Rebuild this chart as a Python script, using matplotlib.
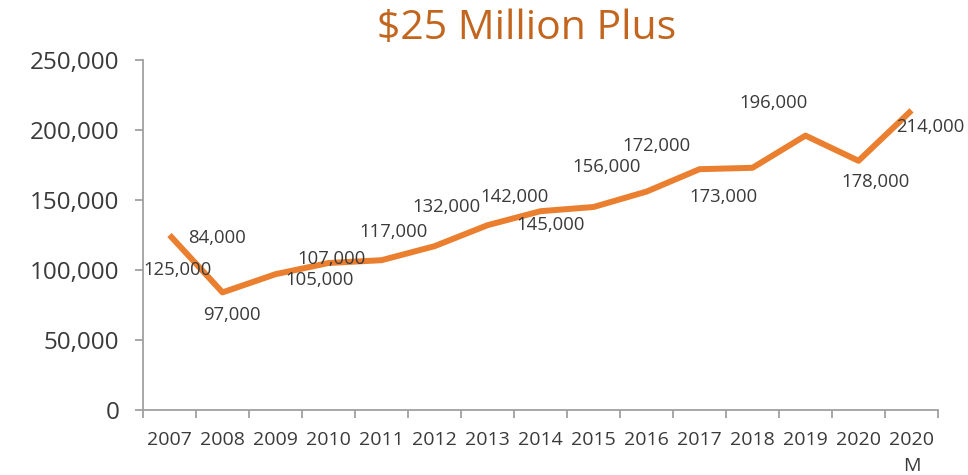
import matplotlib.pyplot as plt
import numpy as np

plt.rcParams['font.family'] = ['Open Sans', 'DejaVu Sans']

LINE_COLOR = '#EB7F30'
TITLE_COLOR = '#C2661F'
TEXT_COLOR = '#3A3A3A'
AXIS_COLOR = '#A0A0A0'

years = ['2007', '2008', '2009', '2010', '2011', '2012', '2013', '2014',
         '2015', '2016', '2017', '2018', '2019', '2020', '2020\nM']
values = [125000, 84000, 97000, 105000, 107000, 117000, 132000, 142000,
          145000, 156000, 172000, 173000, 196000, 178000, 214000]

# где стоят подписи относительно точки (пиксели, y вниз)
label_offsets = [(8, 35), (-5, -54), (-44, 41), (-9, 17), (-50, -1),
                 (-41, -14), (-41, -18), (-26, -14), (-43, 18), (-40, -25),
                 (-43, -23), (-29, 29), (-32, -33), (17, 21), (19, 17)]

fig = plt.figure(figsize=(9.68, 4.75), dpi=100)
ax = fig.add_axes([143 / 968, 65 / 475, 795 / 968, 350 / 475])

x = np.arange(len(years))
ax.plot(x, values, color=LINE_COLOR, linewidth=4.3, solid_joinstyle='round',
        solid_capstyle='butt')

for xi, v, (dx, dy) in zip(x, values, label_offsets):
    ax.annotate(f"{v:,}", (xi, v), xytext=(dx, -dy), textcoords='offset pixels',
                ha='center', va='center', fontsize=13.3, color=TEXT_COLOR)

ax.set_xlim(-0.5, len(years) - 0.5)
ax.set_ylim(0, 250000)
ax.set_yticks(np.arange(0, 250001, 50000))
ax.set_yticklabels([f"{t:,}" for t in range(0, 250001, 50000)])

ax.set_xticks(np.arange(-0.5, len(years), 1.0))
ax.set_xticklabels([])
ax.set_xticks(x, minor=True)
ax.set_xticklabels(years, minor=True, linespacing=1.55)

for s in ['top', 'right']:
    ax.spines[s].set_visible(False)
for s in ['left', 'bottom']:
    ax.spines[s].set_color(AXIS_COLOR)
    ax.spines[s].set_linewidth(1.3)

ax.tick_params(axis='y', length=6, width=1.3, color=AXIS_COLOR, pad=11,
               labelsize=17.5, labelcolor=TEXT_COLOR)
ax.tick_params(axis='x', which='major', length=6, width=1.3, color=AXIS_COLOR)
ax.tick_params(axis='x', which='minor', length=0, pad=15, labelsize=14,
               labelcolor=TEXT_COLOR)

fig.text(527 / 968, 1 - 29 / 475, "$25 Million Plus", ha='center', va='center',
         fontsize=29.5, color=TITLE_COLOR)

plt.savefig("out.png", dpi=100)
plt.close()
